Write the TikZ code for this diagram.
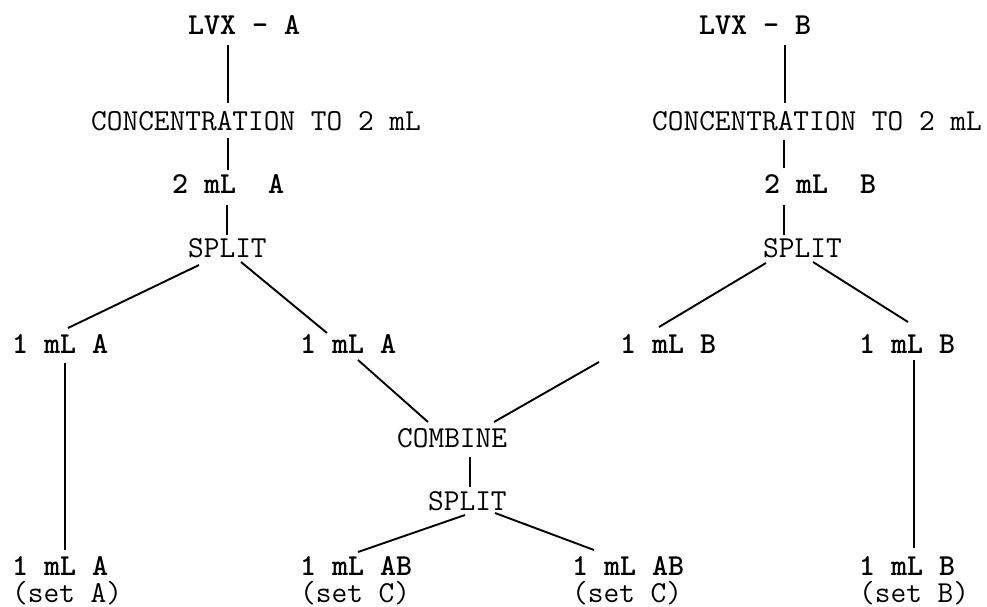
\documentclass[tikz,border=0pt]{standalone}
\usepackage{fontspec}
\usetikzlibrary{calc}
\begin{document}
\begin{tikzpicture}[x=1pt,y=-1pt,
  lbl/.style={anchor=base west,inner sep=0pt,font=\ttfamily\fontsize{30.48}{36}\selectfont},
  blbl/.style={lbl,font=\ttfamily\fontsize{30.48}{36}\selectfont\bfseries},
  setlbl/.style={lbl,text height=18pt},
  conn/.style={line width=1.9pt}]
\useasboundingbox (0,0) rectangle (987,607);
% left branch
\node[blbl] (lvxa)  at (188,35)  {LVX - A};
\node[lbl]  (concA) at (91,130)  {CONCENTRATION TO 2 mL};
\node[blbl] (twoA)  at (172,193) {2 mL~ A};
\node[lbl]  (splitA) at (188,257) {SPLIT};
\node[blbl] (oneAa) at (12,353)  {1 mL A};
\node[blbl] (oneAb) at (300,353) {1 mL A};
\node[blbl] (oneAc) at (12,575)  {1 mL A};
\node[setlbl] (setA)  at (12,602)  {(set A)};
% middle
\node[lbl]  (comb)  at (397,447) {COMBINE};
\node[lbl]  (splitC) at (428,510) {SPLIT};
\node[blbl] (aba)   at (300,575) {1 mL AB};
\node[setlbl] (setCa) at (300,602) {(set C)};
\node[blbl] (abb)   at (572,575) {1 mL AB};
\node[setlbl] (setCb) at (572,602) {(set C)};
% right branch
\node[blbl] (lvxb)  at (699,35)  {LVX - B};
\node[lbl]  (concB) at (652,130) {CONCENTRATION TO 2 mL};
\node[blbl] (twoB)  at (764,193) {2 mL~ B};
\node[lbl]  (splitB) at (763,257) {SPLIT};
\node[blbl] (oneBa) at (620,353) {1 mL B};
\node[blbl] (oneBb) at (859,353) {1 mL B};
\node[blbl] (oneBc) at (859,575) {1 mL B};
\node[setlbl] (setB)  at (859,602) {(set B)};
% connectors
\draw[conn] ($(lvxa.base west)+(40,10)$) -- ($(concA.base west)+(137,-27)$);
\draw[conn] ($(concA.base west)+(137,8)$) -- ($(twoA.base west)+(56,-23)$);
\draw[conn] ($(twoA.base west)+(55,12)$) -- ($(splitA.base west)+(39,-22)$);
\draw[conn] ($(splitA.base west)+(11,8)$) -- ($(oneAa.base west)+(56,-25)$);
\draw[conn] ($(splitA.base west)+(53,5)$) -- ($(oneAb.base west)+(27,-20)$);
\draw[conn] ($(oneAa.base west)+(53,10)$) -- ($(oneAc.base west)+(53,-25)$);
\draw[conn] ($(oneAb.base west)+(58,7)$) -- ($(comb.base west)+(31,-25)$);
\draw[conn] ($(oneBa.base west)+(-21,9)$) -- ($(comb.base west)+(97,-25)$);
\draw[conn] ($(comb.base west)+(73,10)$) -- ($(splitC.base west)+(42,-23)$);
\draw[conn] ($(splitC.base west)+(37,5)$) -- ($(aba.base west)+(58,-23)$);
\draw[conn] ($(splitC.base west)+(67,3)$) -- ($(abb.base west)+(22,-25)$);
\draw[conn] ($(lvxb.base west)+(86,10)$) -- ($(concB.base west)+(133,-27)$);
\draw[conn] ($(concB.base west)+(132,10)$) -- ($(twoB.base west)+(20,-25)$);
\draw[conn] ($(twoB.base west)+(20,12)$) -- ($(splitB.base west)+(21,-22)$);
\draw[conn] ($(splitB.base west)+(3,6)$) -- ($(oneBa.base west)+(39,-26)$);
\draw[conn] ($(splitB.base west)+(50,5)$) -- ($(oneBb.base west)+(49,-31)$);
\draw[conn] ($(oneBb.base west)+(55,7)$) -- ($(oneBc.base west)+(55,-27)$);
\end{tikzpicture}
\end{document}
